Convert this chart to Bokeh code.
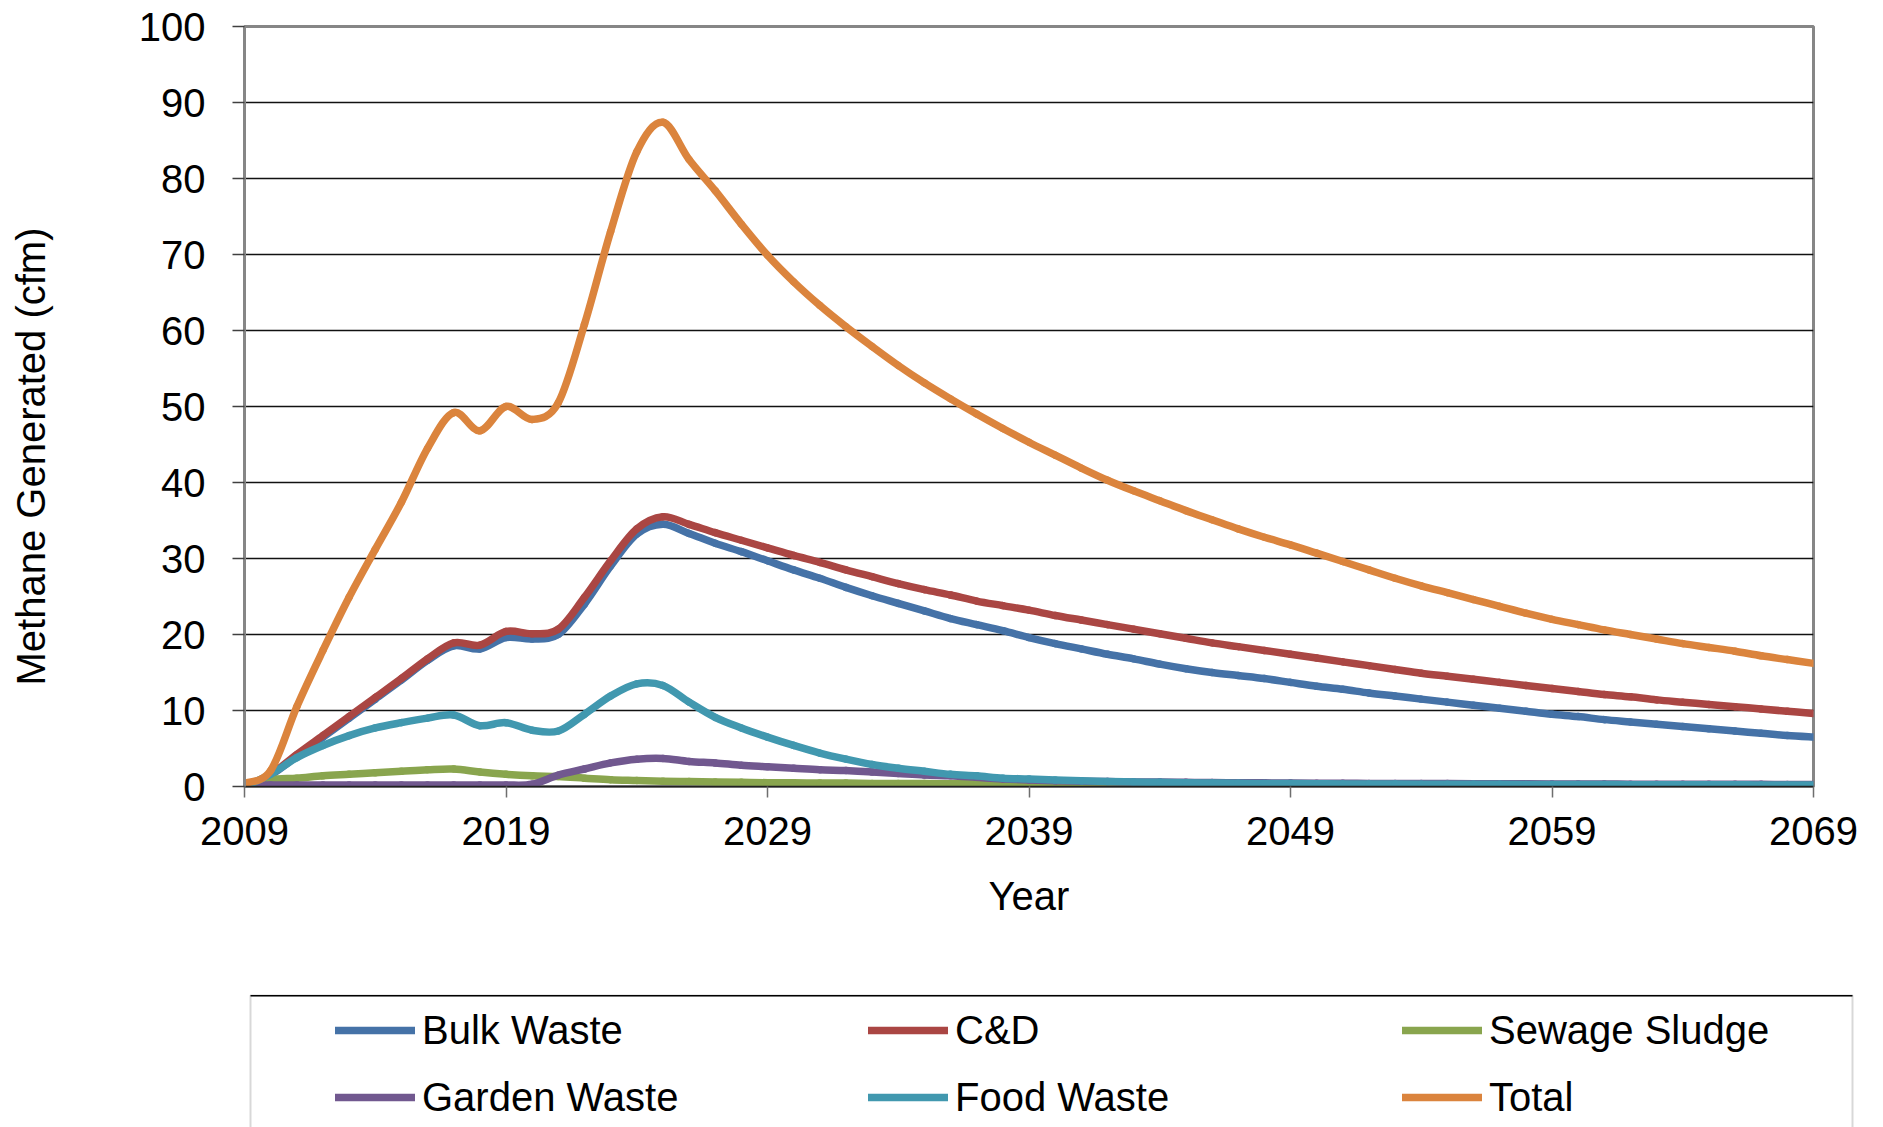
import math

from bokeh.embed import file_html
from bokeh.layouts import column, row
from bokeh.models import (BoxAnnotation, FixedTicker, Label, Legend,
                          LegendItem, Range1d)
from bokeh.plotting import figure
from bokeh.resources import INLINE

# Landfill methane generation by waste stream, 2009-2069 (cfm)
years = list(range(2009, 2070))

bulk_waste = [
    0.0, 1.5, 4.0, 6.5, 9.0, 11.5, 14.0, 16.6, 18.5, 18.1,
    19.6, 19.4, 20.0, 24.0, 29.0, 33.2, 34.5, 33.3, 32.0, 30.9,
    29.7, 28.5, 27.4, 26.2, 25.1, 24.1, 23.1, 22.1, 21.3, 20.5,
    19.6, 18.8, 18.1, 17.4, 16.8, 16.1, 15.5, 15.0, 14.6, 14.2,
    13.7, 13.2, 12.8, 12.3, 11.9, 11.5, 11.1, 10.7, 10.3, 9.9,
    9.5, 9.2, 8.8, 8.5, 8.2, 7.9, 7.6, 7.3, 7.0, 6.7,
    6.5,
]
c_and_d = [
    0.0, 1.6, 4.2, 6.7, 9.2, 11.7, 14.2, 16.8, 18.9, 18.6,
    20.4, 20.1, 20.7, 24.9, 29.7, 33.9, 35.5, 34.5, 33.4, 32.4,
    31.4, 30.4, 29.5, 28.5, 27.6, 26.7, 25.9, 25.2, 24.4, 23.8,
    23.2, 22.5, 21.9, 21.3, 20.7, 20.1, 19.5, 18.9, 18.4, 17.9,
    17.4, 16.9, 16.4, 15.9, 15.4, 14.9, 14.5, 14.1, 13.7, 13.3,
    12.9, 12.5, 12.1, 11.8, 11.4, 11.1, 10.8, 10.5, 10.2, 9.9,
    9.6,
]
sewage_sludge = [
    0.0, 0.9, 1.1, 1.4, 1.6, 1.8, 2.0, 2.2, 2.3, 1.9,
    1.6, 1.4, 1.3, 1.1, 0.9, 0.8, 0.7, 0.65, 0.6, 0.55,
    0.5, 0.5, 0.45, 0.45, 0.4, 0.4, 0.4, 0.35, 0.35, 0.35,
    0.3, 0.3, 0.3, 0.3, 0.3, 0.28, 0.28, 0.27, 0.26, 0.25,
    0.25, 0.24, 0.23, 0.22, 0.22, 0.21, 0.2, 0.2, 0.19, 0.18,
    0.18, 0.17, 0.17, 0.16, 0.16, 0.15, 0.15, 0.14, 0.14, 0.13,
    0.13,
]
garden_waste = [
    0.2, 0.2, 0.2, 0.2, 0.2, 0.2, 0.2, 0.2, 0.2, 0.2,
    0.2, 0.3, 1.5, 2.3, 3.1, 3.6, 3.7, 3.3, 3.1, 2.8,
    2.6, 2.4, 2.2, 2.1, 1.9, 1.7, 1.5, 1.4, 1.2, 1.0,
    0.85, 0.75, 0.7, 0.65, 0.6, 0.58, 0.55, 0.52, 0.5, 0.48,
    0.46, 0.44, 0.42, 0.41, 0.4, 0.39, 0.38, 0.37, 0.36, 0.35,
    0.34, 0.33, 0.32, 0.31, 0.3, 0.3, 0.29, 0.28, 0.28, 0.27,
    0.27,
]
food_waste = [
    0.0, 1.6, 3.8, 5.4, 6.7, 7.7, 8.4, 9.0, 9.4, 8.0,
    8.4, 7.4, 7.3, 9.5, 11.9, 13.5, 13.3, 11.1, 9.1, 7.7,
    6.5, 5.4, 4.4, 3.6, 2.9, 2.4, 2.0, 1.6, 1.4, 1.1,
    1.0, 0.85, 0.75, 0.65, 0.6, 0.55, 0.5, 0.46, 0.42, 0.4,
    0.38, 0.36, 0.34, 0.33, 0.32, 0.31, 0.3, 0.29, 0.28, 0.27,
    0.26, 0.25, 0.25, 0.24, 0.23, 0.23, 0.22, 0.22, 0.21, 0.21,
    0.2,
]
total = [
    0.4, 2.1, 10.5, 17.9, 24.9, 31.2, 37.4, 44.5, 49.2, 46.8,
    50.0, 48.3, 50.5, 60.8, 73.0, 83.5, 87.4, 82.5, 78.4, 74.0,
    69.9, 66.4, 63.3, 60.5, 57.9, 55.4, 53.1, 51.0, 49.0, 47.1,
    45.3, 43.6, 41.9, 40.3, 38.9, 37.6, 36.3, 35.1, 33.9, 32.8,
    31.8, 30.7, 29.6, 28.5, 27.4, 26.4, 25.5, 24.6, 23.7, 22.8,
    22.0, 21.3, 20.6, 20.0, 19.4, 18.8, 18.3, 17.8, 17.2, 16.7,
    16.2,
]

series_names = ["Bulk Waste", "C&D", "Sewage Sludge",
                "Garden Waste", "Food Waste", "Total"]
series_values = [bulk_waste, c_and_d, sewage_sludge,
                 garden_waste, food_waste, total]
series_colors = ["#4572A7", "#AA4643", "#89A54E",
                 "#71588F", "#4198AF", "#DB843D"]

x_ticks = [2009, 2019, 2029, 2039, 2049, 2059, 2069]
y_ticks = [0, 10, 20, 30, 40, 50, 60, 70, 80, 90, 100]

FONT = "Liberation Sans"
FS = "40px"
LINE_W = 7.5

PAGE_W = 1883
TITLE_W = 60          # strip holding the vertical axis title
CHART_H = 960
LEGEND_H = 1127 - CHART_H
FRAME_BOTTOM = 786    # y of the value-axis zero line within the chart


def smooth_segments(xs, ys):
    """Cubic Bezier pieces (Catmull-Rom tangents) joining consecutive points."""
    n = len(xs)
    out = {k: [] for k in ("x0", "y0", "x1", "y1", "cx0", "cy0", "cx1", "cy1")}
    for i in range(n - 1):
        xp, yp = (xs[i - 1], ys[i - 1]) if i > 0 else (xs[i], ys[i])
        xn, yn = (xs[i + 2], ys[i + 2]) if i + 2 < n else (xs[i + 1], ys[i + 1])
        out["x0"].append(xs[i])
        out["y0"].append(ys[i])
        out["x1"].append(xs[i + 1])
        out["y1"].append(ys[i + 1])
        out["cx0"].append(xs[i] + (xs[i + 1] - xp) / 6.0)
        out["cy0"].append(ys[i] + (ys[i + 1] - yp) / 6.0)
        out["cx1"].append(xs[i + 1] - (xn - xs[i]) / 6.0)
        out["cy1"].append(ys[i + 1] - (yn - ys[i]) / 6.0)
    return out


# ---------------------------------------------------------------- main chart
p = figure(width=PAGE_W - TITLE_W, height=CHART_H, output_backend="svg",
           toolbar_location=None,
           x_range=Range1d(2009, 2069), y_range=Range1d(0, 100),
           min_border_left=244 - TITLE_W, min_border_right=70,
           min_border_top=26, min_border_bottom=CHART_H - FRAME_BOTTOM)

p.background_fill_color = "white"
p.border_fill_color = "white"
p.outline_line_color = "#868686"
p.outline_line_width = 3

p.xgrid.visible = False
p.ygrid.ticker = FixedTicker(ticks=y_ticks)
p.ygrid.grid_line_color = "#111111"
p.ygrid.grid_line_width = 1.5

ya = p.yaxis[0]
ya.ticker = FixedTicker(ticks=y_ticks)
ya.axis_line_color = "#868686"
ya.axis_line_width = 3
ya.major_tick_line_color = "#404040"
ya.major_tick_line_width = 1.5
ya.major_tick_out = 12
ya.major_tick_in = 0
ya.minor_tick_line_color = None
ya.major_label_standoff = 27
ya.major_label_text_font = FONT
ya.major_label_text_font_size = FS
ya.major_label_text_color = "black"

xa = p.xaxis[0]
xa.ticker = FixedTicker(ticks=x_ticks)
xa.axis_line_color = "#202020"
xa.axis_line_width = 1.5
xa.major_tick_line_color = "#6e6e6e"
xa.major_tick_line_width = 1.5
xa.major_tick_out = 11
xa.major_tick_in = 0
xa.minor_tick_line_color = None
xa.major_label_standoff = 19
xa.major_label_text_font = FONT
xa.major_label_text_font_size = FS
xa.major_label_text_color = "black"
xa.axis_label = "Year"
xa.axis_label_standoff = 26
xa.axis_label_text_font = FONT
xa.axis_label_text_font_size = FS
xa.axis_label_text_font_style = "normal"
xa.axis_label_text_color = "black"

for vals, color in zip(series_values, series_colors):
    seg = smooth_segments(years, vals)
    p.bezier(x0=seg["x0"], y0=seg["y0"], x1=seg["x1"], y1=seg["y1"],
             cx0=seg["cx0"], cy0=seg["cy0"], cx1=seg["cx1"], cy1=seg["cy1"],
             line_color=color, line_width=LINE_W, line_cap="round")

# ------------------------------------------------------- vertical axis title
# (its plot frame lines up with the chart's frame inside the row)
t = figure(width=TITLE_W, height=CHART_H, output_backend="svg",
           toolbar_location=None, x_axis_type=None, y_axis_type=None,
           x_range=Range1d(0, 1), y_range=Range1d(0, 1), min_border=0)
t.outline_line_color = None
t.grid.visible = False
t.add_layout(Label(x=30, y=FRAME_BOTTOM - 456, x_units="screen",
                   y_units="screen",
                   text="Methane Generated (cfm)", angle=math.pi / 2,
                   text_align="center", text_baseline="middle",
                   text_font=FONT, text_font_size=FS, text_color="black"))

# -------------------------------------------------------------------- legend
lg_fig = figure(width=PAGE_W, height=LEGEND_H, output_backend="svg",
                toolbar_location=None, x_axis_type=None, y_axis_type=None,
                x_range=Range1d(0, 1), y_range=Range1d(0, 1), min_border=0)
lg_fig.outline_line_color = None
lg_fig.grid.visible = False

# the series again, outside this strip's view, carrying the legend styles
samples = [lg_fig.line(years, vals, line_color=c, line_width=LINE_W,
                       line_cap="round")
           for vals, c in zip(series_values, series_colors)]

box_top = LEGEND_H - (995 - CHART_H)
lg_fig.add_layout(BoxAnnotation(left=250, right=1852, top=box_top, bottom=-30,
                                left_units="screen", right_units="screen",
                                top_units="screen", bottom_units="screen",
                                fill_alpha=0, line_color="#7f7f7f",
                                line_width=2))
lg_fig.add_layout(BoxAnnotation(left=250, right=1852, top=box_top + 0.5,
                                bottom=box_top - 1,
                                left_units="screen", right_units="screen",
                                top_units="screen", bottom_units="screen",
                                fill_color="black", fill_alpha=1,
                                line_color=None))

columns = [(335, [0, 3]), (868, [1, 4]), (1402, [2, 5])]
for xpos, idx in columns:
    items = [LegendItem(label=series_names[i], renderers=[samples[i]])
             for i in idx]
    lg_fig.add_layout(Legend(items=items, location=(xpos, 5),
                             orientation="vertical",
                             glyph_width=80, glyph_height=50, label_height=50,
                             label_standoff=7, spacing=17, padding=0, margin=0,
                             border_line_color=None, background_fill_alpha=0,
                             label_text_font=FONT, label_text_font_size=FS,
                             label_text_color="black"))

layout = column(row(t, p), lg_fig)
open("out.html", "w").write(file_html(layout, INLINE))
